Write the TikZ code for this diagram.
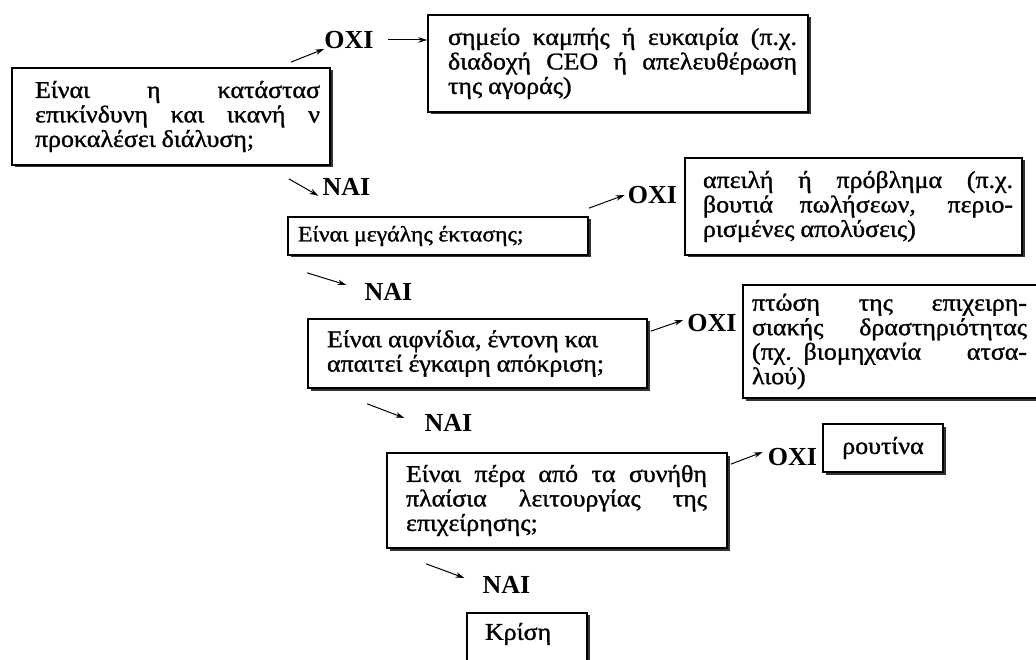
\documentclass[tikz,border=0pt]{standalone}
\usepackage{fontspec}
\setmainfont{Liberation Serif}[FakeStretch=1.08, FakeBold=1.2]
\newfontfamily\lblfont{Liberation Serif}
\usetikzlibrary{arrows.meta,shadows}
% a justified line: indent #1, spaces stretched to width #2
\newcommand\jline[3]{\hspace*{#1pt}\makebox[#2pt][s]{\spaceskip=0.28em plus 1fil\relax #3}}
% a ragged line: indent #1
\newcommand\rline[2]{\hspace*{#1pt}{\spaceskip=0.25em\relax #2}}
\tikzset{
  box/.style={draw, line width=1.7pt, fill=white, inner sep=0pt, align=left,
    drop shadow={shadow xshift=2.5pt, shadow yshift=-2.5pt, fill=black!80, opacity=1},
    font=\fontsize{24}{24.5}\selectfont},
  lbl/.style={inner sep=0pt, font=\lblfont\bfseries\fontsize{26}{28}\selectfont},
  arr/.style={line width=1pt, -{Stealth[length=9pt,width=5.5pt]}}
}
\begin{document}
\begin{tikzpicture}[x=1pt,y=-1pt]
\useasboundingbox (0,0) rectangle (1036,660);
\fill[white] (0,0) rectangle (1036,660);
\clip (0,0) rectangle (1036,660);

% questions
\node[box, minimum width=318pt, minimum height=97pt, text width=318pt] (q1) at (171,116.5)
  {\jline{23}{285}{Είναι η κατάστασ}\\ \jline{23}{285}{επικίνδυνη και ικανή ν}\\ \rline{23}{προκαλέσει διάλυση;}};
\node[box, minimum width=300pt, minimum height=38pt, text width=300pt, font=\fontsize{22}{24.5}\selectfont] (q2) at (438,236)
  {\rline{10}{Είναι μεγάλης έκτασης;}};
\node[box, minimum width=339pt, minimum height=69pt, text width=339pt] (q3) at (477.5,353.5)
  {\rline{19}{Είναι αιφνίδια, έντονη και}\\ \rline{19}{απαιτεί έγκαιρη απόκριση;}};
\node[box, minimum width=340pt, minimum height=95pt, text width=340pt] (q4) at (557,500.5)
  {\jline{19}{301}{Είναι πέρα από τα συνήθη}\\ \jline{19}{301}{πλαίσια λειτουργίας της}\\ \rline{19}{επιχείρησης;}};

% outcomes
\node[box, minimum width=380pt, minimum height=97pt, text width=380pt] (a1) at (618,63.5)
  {\jline{20}{349}{σημείο καμπής ή ευκαιρία (π.χ.}\\ \jline{20}{349}{διαδοχή CEO ή απελευθέρωση}\\ \rline{20}{της αγοράς)}};
\node[box, minimum width=337pt, minimum height=97pt, text width=337pt] (a2) at (853.5,206.5)
  {\jline{18}{310}{απειλή ή πρόβλημα (π.χ.}\\ \jline{18}{310}{βουτιά πωλήσεων, περιο-}\\ \rline{18}{ρισμένες απολύσεις)}};
\node[box, minimum width=302pt, minimum height=113pt, text width=302pt] (a3) at (894,341.5)
  {\jline{9}{275}{πτώση της επιχειρη-}\\ \jline{9}{275}{σιακής δραστηριότητας}\\ \jline{9}{275}{(πχ. βιομηχανία ατσα-}\\ \rline{9}{λιού)}};
\node[box, minimum width=120pt, minimum height=48pt, text width=120pt, align=center] (a4) at (883,448)
  {ρουτίνα};
\node[box, anchor=north, minimum width=120pt, text width=120pt, text height=27pt, text depth=30pt] (k) at (527,612)
  {\rline{18}{Κρίση}};

% answer labels
\node[lbl] (o1) at (349,40) {ΟΧΙ};
\node[lbl] (n1) at (346.5,187) {ΝΑΙ};
\node[lbl] (o2) at (652.5,195) {ΟΧΙ};
\node[lbl] (n2) at (388.5,292) {ΝΑΙ};
\node[lbl] (o3) at (712,323) {ΟΧΙ};
\node[lbl] (n3) at (448.5,423) {ΝΑΙ};
\node[lbl] (o4) at (792.5,457) {ΟΧΙ};
\node[lbl] (n4) at (506.5,585) {ΝΑΙ};

% connectors
\draw[arr] ([shift={(-40,-5)}]q1.north east) -- (o1.south west);
\draw[arr] ([xshift=14pt]o1.east) -- (o1.east -| a1.west);
\draw[arr] ([shift={(-42,13)}]q1.south east) -- ([xshift=-4pt]n1.south west);
\draw[arr] ([shift={(0,-8)}]q2.north east) -- ([xshift=-3pt]o2.west);
\draw[arr] ([shift={(20,17)}]q2.south west) -- ([shift={(-18,-7)}]n2.west);
\draw[arr] ([shift={(3,13)}]q3.north east) -- ([shift={(-4,-3)}]o3.west);
\draw[arr] ([shift={(60,15)}]q3.south west) -- ([shift={(-20,-5)}]n3.west);
\draw[arr] ([shift={(3,12)}]q4.north east) -- ([shift={(-5,-5)}]o4.west);
\draw[arr] ([shift={(40,15)}]q4.south west) -- ([shift={(-18,-7)}]n4.west);
\end{tikzpicture}
\end{document}
